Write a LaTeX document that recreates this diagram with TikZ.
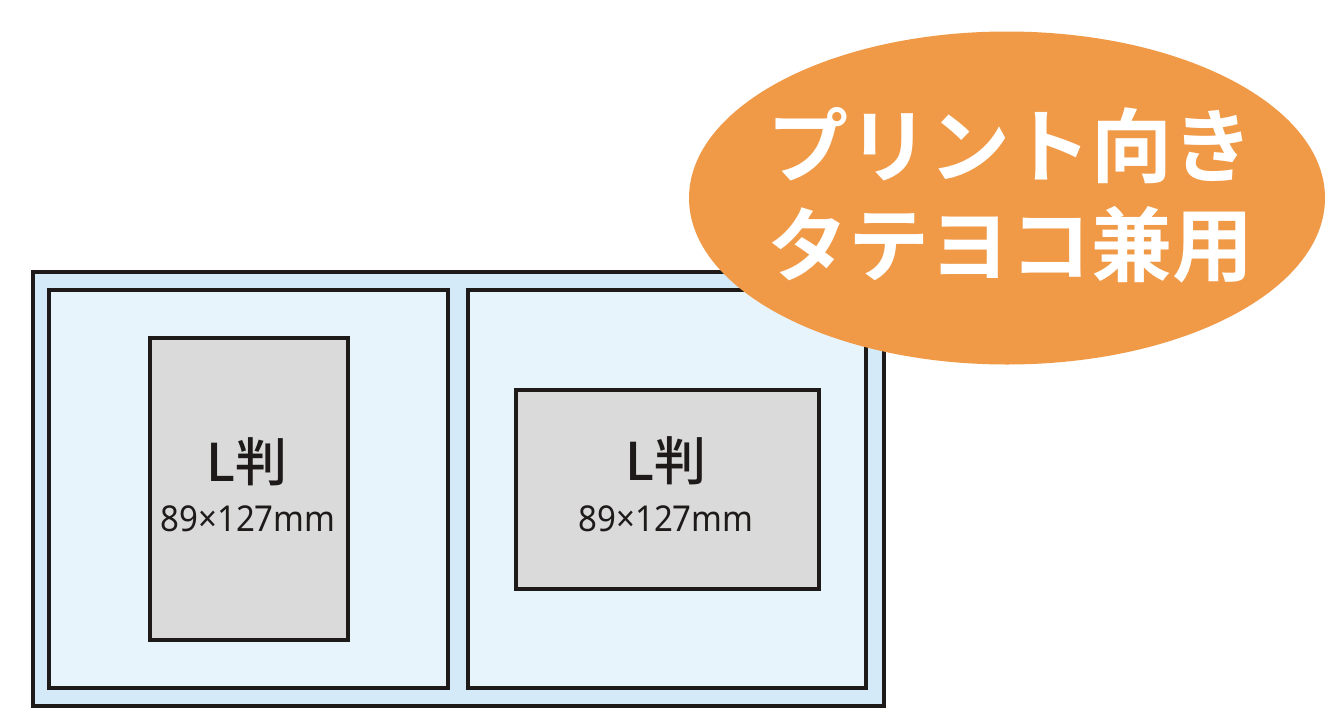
\documentclass[tikz,border=0pt]{standalone}
\usepackage{fontspec}
\newfontfamily\cjk{Noto Sans CJK JP Medium}
\newfontfamily\cjkb{Noto Sans CJK JP Bold}
\newfontfamily\latin{Noto Sans}
\usetikzlibrary{shapes.geometric}
\definecolor{outerblue}{RGB}{212,234,248}
\definecolor{innerblue}{RGB}{232,244,252}
\definecolor{photogrey}{RGB}{218,218,218}
\definecolor{orangebg}{RGB}{240,154,72}
\definecolor{ink}{RGB}{30,26,26}
\tikzset{
  frame/.style={draw=ink, line width=4pt, inner sep=0pt, rectangle},
  photo/.style={frame, fill=photogrey},
  big/.style={font=\cjk\fontsize{52}{54}\selectfont, text=ink, inner sep=0pt},
  small/.style={font=\latin\fontsize{33}{36}\selectfont, text=ink, inner sep=0pt, yscale=1.08},
}
\begin{document}
\begin{tikzpicture}[x=1pt,y=-1pt]
\useasboundingbox (0,0) rectangle (1331,726);
\node[frame, fill=outerblue, minimum width=851pt, minimum height=434pt] (outer) at (458.5,489) {};
\node[frame, fill=innerblue, minimum width=399pt, minimum height=398pt] (left) at (248.5,489) {};
\node[frame, fill=innerblue, minimum width=398pt, minimum height=398pt] (right) at (667,489) {};
\node[photo, minimum width=198pt, minimum height=302pt] (pl) at (249,489) {};
\node[photo, minimum width=303pt, minimum height=199pt] (pr) at (667.5,489.5) {};
\node[big] (tl) at (247,462) {L判};
\node[small] (sl) at (248,519) {89×127mm};
\node[big] (tr) at (666,461) {L判};
\node[small] (sr) at (666,519) {89×127mm};
\node[ellipse, fill=orangebg, minimum width=636pt, minimum height=333pt, inner sep=0pt] (badge) at (1007,198) {};
\node[font=\cjkb\fontsize{81}{99}\selectfont, text=white, align=center, inner sep=0pt] (badgetext) at (1010,195) {プリント向き\\タテヨコ兼用};
\end{tikzpicture}
\end{document}
